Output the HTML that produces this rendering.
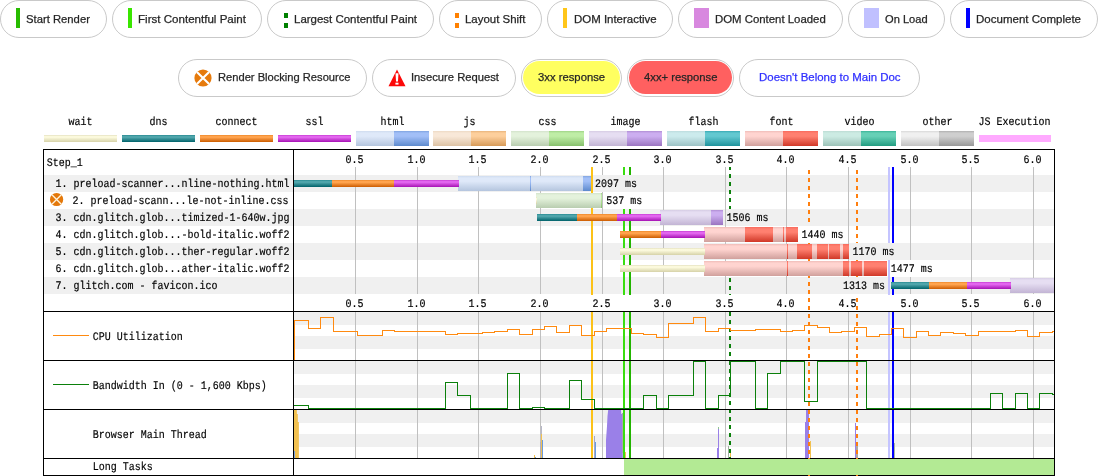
<!DOCTYPE html>
<html><head><meta charset="utf-8"><title>Waterfall</title>
<style>
html,body{margin:0;padding:0;background:#fff;}
body{width:1098px;height:476px;position:relative;overflow:hidden;font-family:"Liberation Sans",sans-serif;}
.pill{position:absolute;box-sizing:border-box;height:38px;border:1px solid #c9c9c9;border-radius:19px;background:#fff;}
.pill .t{position:absolute;top:0.4px;height:36px;line-height:36px;font-size:11.25px;color:#222;-webkit-text-stroke:0.25px currentColor;white-space:nowrap;transform-origin:0 50%;}
.pill .m{position:absolute;}
.pill .fill{position:absolute;left:1px;top:1px;right:1.5px;bottom:2px;border-radius:17px;}
svg{position:absolute;left:0;top:0;}
#chart{will-change:transform;}
svg text{font-family:"Liberation Mono",monospace;font-size:10px;fill:#000;stroke:#000;stroke-width:0.15px;text-rendering:geometricPrecision;}
#pills{position:absolute;left:0;top:0;width:1098px;height:110px;will-change:transform;}
</style></head><body><div id="pills">
<div class="pill" style="left:0px;top:0px;width:107px">
<div class="m" style="left:15px;top:7px;width:4px;height:20px;background:#28bc00"></div>
<span class="t" id="pt0" style="top:0.4px;left:25.00px;color:#262626;transform:scaleX(1.0019)">Start Render</span>
</div>
<div class="pill" style="left:112px;top:0px;width:150px">
<div class="m" style="left:15px;top:7px;width:4px;height:20px;background:#39e600"></div>
<span class="t" id="pt1" style="top:0.4px;left:25.20px;color:#262626;transform:scaleX(1.0281)">First Contentful Paint</span>
</div>
<div class="pill" style="left:267px;top:0px;width:167px">
<div class="m" style="left:16px;top:12px;width:4px;height:5px;background:#008000"></div><div class="m" style="left:16px;top:22px;width:4px;height:5px;background:#008000"></div>
<span class="t" id="pt2" style="top:0.4px;left:26.20px;color:#262626;transform:scaleX(1.0190)">Largest Contentful Paint</span>
</div>
<div class="pill" style="left:439px;top:0px;width:103px">
<div class="m" style="left:15px;top:12px;width:4px;height:5px;background:#ff8000"></div><div class="m" style="left:15px;top:22px;width:4px;height:5px;background:#ff8000"></div>
<span class="t" id="pt3" style="top:0.4px;left:25.00px;color:#262626;transform:scaleX(1.0165)">Layout Shift</span>
</div>
<div class="pill" style="left:547px;top:0px;width:126px">
<div class="m" style="left:15px;top:7px;width:4px;height:20px;background:#ffc61a"></div>
<span class="t" id="pt4" style="top:0.4px;left:25.50px;color:#262626;transform:scaleX(1.0175)">DOM Interactive</span>
</div>
<div class="pill" style="left:678px;top:0px;width:165px">
<div class="m" style="left:15px;top:7px;width:15px;height:20px;background:#d888df"></div>
<span class="t" id="pt5" style="top:0.4px;left:36.20px;color:#262626;transform:scaleX(1.0123)">DOM Content Loaded</span>
</div>
<div class="pill" style="left:848px;top:0px;width:97px">
<div class="m" style="left:15px;top:7px;width:15px;height:20px;background:#c0c0ff"></div>
<span class="t" id="pt6" style="top:0.4px;left:36.10px;color:#262626;transform:scaleX(0.9868)">On Load</span>
</div>
<div class="pill" style="left:950px;top:0px;width:148px">
<div class="m" style="left:15px;top:7px;width:4px;height:20px;background:#0000ff"></div>
<span class="t" id="pt7" style="top:0.4px;left:25.20px;color:#262626;transform:scaleX(1.0239)">Document Complete</span>
</div>
<div class="pill" style="left:178px;top:59px;width:189px">
<svg class="m" style="left:14.5px;top:8.5px" width="18" height="18" viewBox="0 0 18 18"><circle cx="9" cy="9" r="8.6" fill="#e67a0c"/><path d="M2.9 2.9 L15.1 15.1 M15.1 2.9 L2.9 15.1" stroke="#fff" stroke-width="2.1" fill="none"/></svg>
<span class="t" id="pt8" style="top:-0.6px;left:38.50px;color:#262626;transform:scaleX(0.9901)">Render Blocking Resource</span>
</div>
<div class="pill" style="left:372px;top:59px;width:144px">
<svg class="m" style="left:14.5px;top:8.5px" width="18" height="18" viewBox="0 0 18 18"><path d="M9 0.4 L17.5 17.3 L0.5 17.3 Z" fill="#fc0808"/><path d="M7.5 4.3 L10.5 4.3 L10 12.5 L8 12.5 Z" fill="#fff"/><rect x="7.4" y="13.7" width="3.1" height="1.9" fill="#fff"/></svg>
<span class="t" id="pt9" style="top:-0.6px;left:38.20px;color:#262626;transform:scaleX(0.9979)">Insecure Request</span>
</div>
<div class="pill" style="left:521px;top:59px;width:101px">
<div class="fill" style="background:#ffff60"></div>
<span class="t" id="pt10" style="top:-0.6px;left:16.10px;color:#262626;transform:scaleX(1.0027)">3xx response</span>
</div>
<div class="pill" style="left:627px;top:59px;width:107px">
<div class="fill" style="background:#ff6060"></div>
<span class="t" id="pt11" style="top:-0.6px;left:16.10px;color:#262626;transform:scaleX(1.0002)">4xx+ response</span>
</div>
<div class="pill" style="left:739px;top:59px;width:181px">
<span class="t" id="pt12" style="top:-0.6px;left:19.20px;color:#3030ff;transform:scaleX(1.0179)">Doesn't Belong to Main Doc</span>
</div>
</div>
<svg id="chart" width="1098" height="476" viewBox="0 0 1098 476" shape-rendering="crispEdges">
<defs>
<linearGradient id="g_wait" x1="0" y1="0" x2="0" y2="1"><stop offset="0" stop-color="#ddd9b8"/><stop offset="0.14" stop-color="#fbf9dc"/><stop offset="0.35" stop-color="#fbf9dc"/><stop offset="1" stop-color="#d6d2a8"/></linearGradient>
<linearGradient id="g_dns" x1="0" y1="0" x2="0" y2="1"><stop offset="0" stop-color="#1d838b"/><stop offset="0.14" stop-color="#4fa5ab"/><stop offset="0.35" stop-color="#4fa5ab"/><stop offset="1" stop-color="#00626a"/></linearGradient>
<linearGradient id="g_connect" x1="0" y1="0" x2="0" y2="1"><stop offset="0" stop-color="#e8801f"/><stop offset="0.14" stop-color="#ffa34d"/><stop offset="0.35" stop-color="#ffa34d"/><stop offset="1" stop-color="#cc5c00"/></linearGradient>
<linearGradient id="g_ssl" x1="0" y1="0" x2="0" y2="1"><stop offset="0" stop-color="#c030cc"/><stop offset="0.14" stop-color="#e266ee"/><stop offset="0.35" stop-color="#e266ee"/><stop offset="1" stop-color="#a612b4"/></linearGradient>
<linearGradient id="g_html_l" x1="0" y1="0" x2="0" y2="1"><stop offset="0" stop-color="#cfdcef"/><stop offset="0.14" stop-color="#dfe9f9"/><stop offset="0.35" stop-color="#dfe9f9"/><stop offset="1" stop-color="#b4c5de"/></linearGradient>
<linearGradient id="g_html_d" x1="0" y1="0" x2="0" y2="1"><stop offset="0" stop-color="#80a4e0"/><stop offset="0.14" stop-color="#a2bff7"/><stop offset="0.35" stop-color="#a2bff7"/><stop offset="1" stop-color="#5d8acd"/></linearGradient>
<linearGradient id="g_js_l" x1="0" y1="0" x2="0" y2="1"><stop offset="0" stop-color="#eddac4"/><stop offset="0.14" stop-color="#f8e8d8"/><stop offset="0.35" stop-color="#f8e8d8"/><stop offset="1" stop-color="#dcc2a4"/></linearGradient>
<linearGradient id="g_js_d" x1="0" y1="0" x2="0" y2="1"><stop offset="0" stop-color="#e8b47c"/><stop offset="0.14" stop-color="#fdcf9c"/><stop offset="0.35" stop-color="#fdcf9c"/><stop offset="1" stop-color="#d69a58"/></linearGradient>
<linearGradient id="g_css_l" x1="0" y1="0" x2="0" y2="1"><stop offset="0" stop-color="#d3e3cb"/><stop offset="0.14" stop-color="#e4f2dc"/><stop offset="0.35" stop-color="#e4f2dc"/><stop offset="1" stop-color="#b9cdb0"/></linearGradient>
<linearGradient id="g_css_d" x1="0" y1="0" x2="0" y2="1"><stop offset="0" stop-color="#a0d488"/><stop offset="0.14" stop-color="#bfeda6"/><stop offset="0.35" stop-color="#bfeda6"/><stop offset="1" stop-color="#86c06c"/></linearGradient>
<linearGradient id="g_image_l" x1="0" y1="0" x2="0" y2="1"><stop offset="0" stop-color="#d6cce4"/><stop offset="0.14" stop-color="#e6def2"/><stop offset="0.35" stop-color="#e6def2"/><stop offset="1" stop-color="#c2b4d4"/></linearGradient>
<linearGradient id="g_image_d" x1="0" y1="0" x2="0" y2="1"><stop offset="0" stop-color="#b08ed4"/><stop offset="0.14" stop-color="#ccaef0"/><stop offset="0.35" stop-color="#ccaef0"/><stop offset="1" stop-color="#9a74c0"/></linearGradient>
<linearGradient id="g_flash_l" x1="0" y1="0" x2="0" y2="1"><stop offset="0" stop-color="#bcdcde"/><stop offset="0.14" stop-color="#ccebed"/><stop offset="0.35" stop-color="#ccebed"/><stop offset="1" stop-color="#9cc2c5"/></linearGradient>
<linearGradient id="g_flash_d" x1="0" y1="0" x2="0" y2="1"><stop offset="0" stop-color="#38aab4"/><stop offset="0.14" stop-color="#62c8d0"/><stop offset="0.35" stop-color="#62c8d0"/><stop offset="1" stop-color="#1e929c"/></linearGradient>
<linearGradient id="g_font_l" x1="0" y1="0" x2="0" y2="1"><stop offset="0" stop-color="#f0bcb8"/><stop offset="0.14" stop-color="#ffd4d0"/><stop offset="0.35" stop-color="#ffd4d0"/><stop offset="1" stop-color="#d0a09c"/></linearGradient>
<linearGradient id="g_font_d" x1="0" y1="0" x2="0" y2="1"><stop offset="0" stop-color="#f86a5c"/><stop offset="0.14" stop-color="#ff8070"/><stop offset="0.35" stop-color="#ff8070"/><stop offset="1" stop-color="#d03828"/></linearGradient>
<linearGradient id="g_video_l" x1="0" y1="0" x2="0" y2="1"><stop offset="0" stop-color="#bcdcd4"/><stop offset="0.14" stop-color="#ccebe3"/><stop offset="0.35" stop-color="#ccebe3"/><stop offset="1" stop-color="#9cc2b8"/></linearGradient>
<linearGradient id="g_video_d" x1="0" y1="0" x2="0" y2="1"><stop offset="0" stop-color="#3cb498"/><stop offset="0.14" stop-color="#66d0b6"/><stop offset="0.35" stop-color="#66d0b6"/><stop offset="1" stop-color="#229c80"/></linearGradient>
<linearGradient id="g_other_l" x1="0" y1="0" x2="0" y2="1"><stop offset="0" stop-color="#d8d8d8"/><stop offset="0.14" stop-color="#f0f0f0"/><stop offset="0.35" stop-color="#f0f0f0"/><stop offset="1" stop-color="#c2c2c2"/></linearGradient>
<linearGradient id="g_other_d" x1="0" y1="0" x2="0" y2="1"><stop offset="0" stop-color="#b0b0b0"/><stop offset="0.14" stop-color="#cfcfcf"/><stop offset="0.35" stop-color="#cfcfcf"/><stop offset="1" stop-color="#989898"/></linearGradient>
</defs>
<text transform="translate(80.5,124.6) scale(1,1.16)" text-anchor="middle" >wait</text>
<rect x="44" y="135" width="73" height="7" fill="url(#g_wait)" />
<text transform="translate(158.5,124.6) scale(1,1.16)" text-anchor="middle" >dns</text>
<rect x="122" y="135" width="73" height="7" fill="url(#g_dns)" />
<text transform="translate(236.5,124.6) scale(1,1.16)" text-anchor="middle" >connect</text>
<rect x="200" y="135" width="73" height="7" fill="url(#g_connect)" />
<text transform="translate(314.5,124.6) scale(1,1.16)" text-anchor="middle" >ssl</text>
<rect x="278" y="135" width="73" height="7" fill="url(#g_ssl)" />
<text transform="translate(392.5,124.6) scale(1,1.16)" text-anchor="middle" >html</text>
<rect x="356" y="131" width="38" height="15" fill="url(#g_html_l)" />
<rect x="394" y="131" width="35" height="15" fill="url(#g_html_d)" />
<text transform="translate(469.5,124.6) scale(1,1.16)" text-anchor="middle" >js</text>
<rect x="433" y="131" width="38" height="15" fill="url(#g_js_l)" />
<rect x="471" y="131" width="35" height="15" fill="url(#g_js_d)" />
<text transform="translate(547.5,124.6) scale(1,1.16)" text-anchor="middle" >css</text>
<rect x="511" y="131" width="38" height="15" fill="url(#g_css_l)" />
<rect x="549" y="131" width="35" height="15" fill="url(#g_css_d)" />
<text transform="translate(625.5,124.6) scale(1,1.16)" text-anchor="middle" >image</text>
<rect x="589" y="131" width="38" height="15" fill="url(#g_image_l)" />
<rect x="627" y="131" width="35" height="15" fill="url(#g_image_d)" />
<text transform="translate(703.5,124.6) scale(1,1.16)" text-anchor="middle" >flash</text>
<rect x="667" y="131" width="38" height="15" fill="url(#g_flash_l)" />
<rect x="705" y="131" width="35" height="15" fill="url(#g_flash_d)" />
<text transform="translate(781.5,124.6) scale(1,1.16)" text-anchor="middle" >font</text>
<rect x="745" y="131" width="38" height="15" fill="url(#g_font_l)" />
<rect x="783" y="131" width="35" height="15" fill="url(#g_font_d)" />
<text transform="translate(859.5,124.6) scale(1,1.16)" text-anchor="middle" >video</text>
<rect x="823" y="131" width="38" height="15" fill="url(#g_video_l)" />
<rect x="861" y="131" width="35" height="15" fill="url(#g_video_d)" />
<text transform="translate(937.5,124.6) scale(1,1.16)" text-anchor="middle" >other</text>
<rect x="901" y="131" width="38" height="15" fill="url(#g_other_l)" />
<rect x="939" y="131" width="35" height="15" fill="url(#g_other_d)" />
<text transform="translate(1014.5,124.6) scale(1,1.16)" text-anchor="middle" >JS Execution</text>
<rect x="979" y="135" width="72" height="7" fill="#ffaaff" />
<rect x="44" y="175" width="1010" height="17" fill="#f0f0f0" />
<rect x="44" y="209" width="1010" height="17" fill="#f0f0f0" />
<rect x="44" y="243" width="1010" height="17" fill="#f0f0f0" />
<rect x="44" y="277" width="1010" height="17" fill="#f0f0f0" />
<rect x="294" y="312" width="760" height="12.5" fill="#f0f0f0" />
<rect x="294" y="336" width="760" height="12.5" fill="#f0f0f0" />
<rect x="294" y="361" width="760" height="12.5" fill="#f0f0f0" />
<rect x="294" y="385" width="760" height="12.5" fill="#f0f0f0" />
<rect x="294" y="410" width="760" height="12.5" fill="#f0f0f0" />
<rect x="294" y="434" width="760" height="12.5" fill="#f0f0f0" />
<rect x="355" y="167" width="1" height="127" fill="#c0c0c0" />
<rect x="355" y="312" width="1" height="146" fill="#c0c0c0" />
<rect x="417" y="167" width="1" height="127" fill="#c0c0c0" />
<rect x="417" y="312" width="1" height="146" fill="#c0c0c0" />
<rect x="478" y="167" width="1" height="127" fill="#c0c0c0" />
<rect x="478" y="312" width="1" height="146" fill="#c0c0c0" />
<rect x="540" y="167" width="1" height="127" fill="#c0c0c0" />
<rect x="540" y="312" width="1" height="146" fill="#c0c0c0" />
<rect x="602" y="167" width="1" height="127" fill="#c0c0c0" />
<rect x="602" y="312" width="1" height="146" fill="#c0c0c0" />
<rect x="663" y="167" width="1" height="127" fill="#c0c0c0" />
<rect x="663" y="312" width="1" height="146" fill="#c0c0c0" />
<rect x="725" y="167" width="1" height="127" fill="#c0c0c0" />
<rect x="725" y="312" width="1" height="146" fill="#c0c0c0" />
<rect x="786" y="167" width="1" height="127" fill="#c0c0c0" />
<rect x="786" y="312" width="1" height="146" fill="#c0c0c0" />
<rect x="848" y="167" width="1" height="127" fill="#c0c0c0" />
<rect x="848" y="312" width="1" height="146" fill="#c0c0c0" />
<rect x="910" y="167" width="1" height="127" fill="#c0c0c0" />
<rect x="910" y="312" width="1" height="146" fill="#c0c0c0" />
<rect x="971" y="167" width="1" height="127" fill="#c0c0c0" />
<rect x="971" y="312" width="1" height="146" fill="#c0c0c0" />
<rect x="1033" y="167" width="1" height="127" fill="#c0c0c0" />
<rect x="1033" y="312" width="1" height="146" fill="#c0c0c0" />
<rect x="591" y="167" width="2" height="291" fill="#fcc218" />
<rect x="623" y="167" width="2" height="291" fill="#3ade10" />
<rect x="629" y="167" width="2" height="291" fill="#22b400" />
<rect x="888" y="167" width="2" height="291" fill="#c4c4ff" />
<rect x="892" y="167" width="2" height="291" fill="#0000ff" />
<rect x="729" y="167" width="2" height="3" fill="#0b800b" />
<rect x="729" y="174" width="2" height="4" fill="#0b800b" />
<rect x="729" y="182" width="2" height="4" fill="#0b800b" />
<rect x="729" y="190" width="2" height="4" fill="#0b800b" />
<rect x="729" y="198" width="2" height="4" fill="#0b800b" />
<rect x="729" y="206" width="2" height="3" fill="#0b800b" />
<rect x="729" y="278" width="2" height="4" fill="#0b800b" />
<rect x="729" y="286" width="2" height="4" fill="#0b800b" />
<rect x="729" y="294" width="2" height="1" fill="#0b800b" />
<rect x="729" y="312" width="2" height="4" fill="#0b800b" />
<rect x="729" y="320" width="2" height="4" fill="#0b800b" />
<rect x="729" y="328" width="2" height="4" fill="#0b800b" />
<rect x="729" y="336" width="2" height="4" fill="#0b800b" />
<rect x="729" y="344" width="2" height="4" fill="#0b800b" />
<rect x="729" y="352" width="2" height="4" fill="#0b800b" />
<rect x="729" y="360.5" width="2" height="4" fill="#0b800b" />
<rect x="729" y="368.5" width="2" height="4" fill="#0b800b" />
<rect x="729" y="376.5" width="2" height="4" fill="#0b800b" />
<rect x="729" y="384.5" width="2" height="4" fill="#0b800b" />
<rect x="729" y="392.5" width="2" height="4" fill="#0b800b" />
<rect x="729" y="400.5" width="2" height="4" fill="#0b800b" />
<rect x="729" y="409" width="2" height="4" fill="#0b800b" />
<rect x="729" y="417" width="2" height="4" fill="#0b800b" />
<rect x="729" y="425" width="2" height="4" fill="#0b800b" />
<rect x="729" y="433" width="2" height="4" fill="#0b800b" />
<rect x="729" y="441" width="2" height="4" fill="#0b800b" />
<rect x="729" y="449" width="2" height="4" fill="#0b800b" />
<rect x="729" y="457" width="2" height="1" fill="#0b800b" />
<rect x="294" y="295" width="760" height="16" fill="#ffffff" />
<rect x="808" y="170" width="2" height="4" fill="#ff7f0e" />
<rect x="808" y="178" width="2" height="4" fill="#ff7f0e" />
<rect x="808" y="186" width="2" height="4" fill="#ff7f0e" />
<rect x="808" y="194" width="2" height="4" fill="#ff7f0e" />
<rect x="808" y="202" width="2" height="4" fill="#ff7f0e" />
<rect x="808" y="210" width="2" height="4" fill="#ff7f0e" />
<rect x="808" y="218" width="2" height="4" fill="#ff7f0e" />
<rect x="808" y="226" width="2" height="4" fill="#ff7f0e" />
<rect x="808" y="234" width="2" height="4" fill="#ff7f0e" />
<rect x="808" y="242" width="2" height="4" fill="#ff7f0e" />
<rect x="808" y="250" width="2" height="4" fill="#ff7f0e" />
<rect x="808" y="258" width="2" height="4" fill="#ff7f0e" />
<rect x="808" y="266" width="2" height="4" fill="#ff7f0e" />
<rect x="808" y="274" width="2" height="4" fill="#ff7f0e" />
<rect x="808" y="282" width="2" height="4" fill="#ff7f0e" />
<rect x="808" y="290" width="2" height="4" fill="#ff7f0e" />
<rect x="808" y="298" width="2" height="4" fill="#ff7f0e" />
<rect x="808" y="306" width="2" height="4" fill="#ff7f0e" />
<rect x="808" y="314" width="2" height="4" fill="#ff7f0e" />
<rect x="808" y="322" width="2" height="4" fill="#ff7f0e" />
<rect x="808" y="330" width="2" height="4" fill="#ff7f0e" />
<rect x="808" y="338" width="2" height="4" fill="#ff7f0e" />
<rect x="808" y="346" width="2" height="4" fill="#ff7f0e" />
<rect x="808" y="354" width="2" height="4" fill="#ff7f0e" />
<rect x="808" y="362" width="2" height="4" fill="#ff7f0e" />
<rect x="808" y="370" width="2" height="4" fill="#ff7f0e" />
<rect x="808" y="378" width="2" height="4" fill="#ff7f0e" />
<rect x="808" y="386" width="2" height="4" fill="#ff7f0e" />
<rect x="808" y="394" width="2" height="4" fill="#ff7f0e" />
<rect x="808" y="402" width="2" height="4" fill="#ff7f0e" />
<rect x="808" y="410" width="2" height="4" fill="#ff7f0e" />
<rect x="808" y="418" width="2" height="4" fill="#ff7f0e" />
<rect x="808" y="426" width="2" height="4" fill="#ff7f0e" />
<rect x="808" y="434" width="2" height="4" fill="#ff7f0e" />
<rect x="808" y="442" width="2" height="4" fill="#ff7f0e" />
<rect x="808" y="450" width="2" height="4" fill="#ff7f0e" />
<rect x="856" y="170" width="2" height="4" fill="#ff7f0e" />
<rect x="856" y="178" width="2" height="4" fill="#ff7f0e" />
<rect x="856" y="186" width="2" height="4" fill="#ff7f0e" />
<rect x="856" y="194" width="2" height="4" fill="#ff7f0e" />
<rect x="856" y="202" width="2" height="4" fill="#ff7f0e" />
<rect x="856" y="210" width="2" height="4" fill="#ff7f0e" />
<rect x="856" y="218" width="2" height="4" fill="#ff7f0e" />
<rect x="856" y="226" width="2" height="4" fill="#ff7f0e" />
<rect x="856" y="234" width="2" height="4" fill="#ff7f0e" />
<rect x="856" y="242" width="2" height="4" fill="#ff7f0e" />
<rect x="856" y="250" width="2" height="4" fill="#ff7f0e" />
<rect x="856" y="258" width="2" height="4" fill="#ff7f0e" />
<rect x="856" y="266" width="2" height="4" fill="#ff7f0e" />
<rect x="856" y="274" width="2" height="4" fill="#ff7f0e" />
<rect x="856" y="282" width="2" height="4" fill="#ff7f0e" />
<rect x="856" y="290" width="2" height="4" fill="#ff7f0e" />
<rect x="856" y="298" width="2" height="4" fill="#ff7f0e" />
<rect x="856" y="306" width="2" height="4" fill="#ff7f0e" />
<rect x="856" y="314" width="2" height="4" fill="#ff7f0e" />
<rect x="856" y="322" width="2" height="4" fill="#ff7f0e" />
<rect x="856" y="330" width="2" height="4" fill="#ff7f0e" />
<rect x="856" y="338" width="2" height="4" fill="#ff7f0e" />
<rect x="856" y="346" width="2" height="4" fill="#ff7f0e" />
<rect x="856" y="354" width="2" height="4" fill="#ff7f0e" />
<rect x="856" y="362" width="2" height="4" fill="#ff7f0e" />
<rect x="856" y="370" width="2" height="4" fill="#ff7f0e" />
<rect x="856" y="378" width="2" height="4" fill="#ff7f0e" />
<rect x="856" y="386" width="2" height="4" fill="#ff7f0e" />
<rect x="856" y="394" width="2" height="4" fill="#ff7f0e" />
<rect x="856" y="402" width="2" height="4" fill="#ff7f0e" />
<rect x="856" y="410" width="2" height="4" fill="#ff7f0e" />
<rect x="856" y="418" width="2" height="4" fill="#ff7f0e" />
<rect x="856" y="426" width="2" height="4" fill="#ff7f0e" />
<rect x="856" y="434" width="2" height="4" fill="#ff7f0e" />
<rect x="856" y="442" width="2" height="4" fill="#ff7f0e" />
<rect x="856" y="450" width="2" height="4" fill="#ff7f0e" />
<rect x="624" y="459" width="430" height="16" fill="#b3ea94" />
<polygon points="294,458 294,410 296.8,410 296.9,414 297.8,414 297.9,422 298.9,422 298.9,458" fill="#f2c150" shape-rendering="auto"/>
<rect x="294" y="451" width="1" height="7" fill="#7aa0dc" />
<rect x="534" y="455" width="1" height="3" fill="#f2c150" />
<rect x="534.5" y="456.5" width="1" height="1.5" fill="#6a9be0" />
<rect x="539.5" y="442" width="1" height="16" fill="#b0b0c8" />
<rect x="540.5" y="429" width="1" height="29" fill="#f2c150" />
<rect x="541" y="426" width="0.6" height="8" fill="#b8b8c8" />
<rect x="541.5" y="440" width="1" height="18" fill="#6a9be0" />
<rect x="594" y="436" width="1" height="22" fill="#a8a8c0" />
<rect x="594.5" y="442" width="1" height="16" fill="#6a9be0" />
<rect x="595.5" y="448" width="0.6" height="10" fill="#a0b8e0" />
<polygon points="606,458 606,440 607,426 607.5,416 608.2,410 621,410 621.3,414 622.8,414 622.8,458" fill="#9a80e8" shape-rendering="auto"/>
<rect x="622" y="413" width="1" height="40" fill="#a8a0b8" />
<rect x="624.5" y="452" width="1" height="6" fill="#f2c150" />
<rect x="717" y="448" width="1" height="10" fill="#9a80e8" />
<rect x="718" y="428" width="1" height="30" fill="#9a80e8" />
<rect x="718" y="427" width="1" height="2" fill="#90c890" />
<rect x="728" y="446" width="1" height="12" fill="#a0b0a0" />
<rect x="730.3" y="452" width="1" height="6" fill="#f2c150" />
<rect x="805" y="422" width="1.4" height="36" fill="#9a80e8" />
<rect x="806.4" y="410" width="2.2" height="48" fill="#9a80e8" />
<rect x="810" y="441" width="1" height="17" fill="#f2c150" />
<rect x="855" y="423" width="1.2" height="35" fill="#9a80e8" />
<rect x="856" y="444" width="1.5" height="14" fill="#b0a8a0" />
<rect x="894" y="443" width="1" height="15" fill="#a8b8a0" />
<rect x="808" y="410" width="2" height="4" fill="#ff7f0e" />
<rect x="808" y="418" width="2" height="4" fill="#ff7f0e" />
<rect x="808" y="426" width="2" height="4" fill="#ff7f0e" />
<rect x="808" y="434" width="2" height="4" fill="#ff7f0e" />
<rect x="808" y="442" width="2" height="4" fill="#ff7f0e" />
<rect x="808" y="450" width="2" height="4" fill="#ff7f0e" />
<rect x="856" y="410" width="2" height="4" fill="#ff7f0e" />
<rect x="856" y="418" width="2" height="4" fill="#ff7f0e" />
<rect x="856" y="426" width="2" height="4" fill="#ff7f0e" />
<rect x="856" y="434" width="2" height="4" fill="#ff7f0e" />
<rect x="856" y="442" width="2" height="4" fill="#ff7f0e" />
<rect x="856" y="450" width="2" height="4" fill="#ff7f0e" />
<rect x="729" y="409" width="2" height="4" fill="#0b800b" />
<rect x="729" y="417" width="2" height="4" fill="#0b800b" />
<rect x="729" y="425" width="2" height="4" fill="#0b800b" />
<rect x="729" y="433" width="2" height="4" fill="#0b800b" />
<rect x="729" y="441" width="2" height="4" fill="#0b800b" />
<rect x="729" y="449" width="2" height="4" fill="#0b800b" />
<rect x="729" y="457" width="2" height="1" fill="#0b800b" />
<polyline fill="none" stroke="#ff8a10" stroke-width="1" points="294,360 294,320.5 308.5,320.5 308.5,328.5 320.5,328.5 320.5,317.5 333.5,317.5 333.5,331.5 357.5,331.5 357.5,335.5 382.5,335.5 382.5,330.5 394.5,330.5 394.5,331.5 445.5,331.5 445.5,334.5 457.5,334.5 457.5,333.5 482.5,333.5 482.5,332.5 494.5,332.5 494.5,331.5 507.5,331.5 507.5,329.5 519.5,329.5 519.5,334.5 532.5,334.5 532.5,329.5 544.5,329.5 544.5,326.5 556.5,326.5 556.5,332.5 569.5,332.5 569.5,325.5 581.5,325.5 581.5,335.5 594.5,335.5 594.5,331.5 606.5,331.5 606.5,328.5 631.5,328.5 631.5,333.5 643.5,333.5 643.5,334.5 656.5,334.5 656.5,337.5 668.5,337.5 668.5,323.5 693.5,323.5 693.5,317.5 705.5,317.5 705.5,331.5 718.5,331.5 718.5,328.5 730.5,328.5 730.5,330.5 755.5,330.5 755.5,329.5 780.5,329.5 780.5,331.5 792.5,331.5 792.5,330.5 804.5,330.5 804.5,325.5 817.5,325.5 817.5,327.5 829.5,327.5 829.5,332.5 841.5,332.5 841.5,331.5 854.5,331.5 854.5,327.5 866.5,327.5 866.5,336.5 879.5,336.5 879.5,334.5 891.5,334.5 891.5,328.5 903.5,328.5 903.5,337.5 916.5,337.5 916.5,331.5 928.5,331.5 928.5,335.5 940.5,335.5 940.5,332.5 953.5,332.5 953.5,333.5 965.5,333.5 965.5,335.5 978.5,335.5 978.5,331.5 1015.5,331.5 1015.5,330.5 1027.5,330.5 1027.5,336.5 1039.5,336.5 1039.5,332.5 1052.5,332.5 1052.5,331.5 1054,331.5"/>
<polyline fill="none" stroke="#0b800b" stroke-width="1" points="294,405.5 308.5,405.5 308.5,408.5 445.5,408.5 445.5,382.5 457.5,382.5 457.5,395.5 470.5,395.5 470.5,408.5 507.5,408.5 507.5,373.5 519.5,373.5 519.5,408.5 532.5,408.5 532.5,407.5 544.5,407.5 544.5,408.5 569.5,408.5 569.5,380.5 581.5,380.5 581.5,399.5 594.5,399.5 594.5,408.5 643.5,408.5 643.5,395.5 656.5,395.5 656.5,408.5 668.5,408.5 668.5,395.5 693.5,395.5 693.5,361.5 705.5,361.5 705.5,408.5 718.5,408.5 718.5,395.5 730.5,395.5 730.5,361.5 755.5,361.5 755.5,408.5 767.5,408.5 767.5,373.5 780.5,373.5 780.5,361.5 804.5,361.5 804.5,401.5 817.5,401.5 817.5,361.5 866.5,361.5 866.5,408.5 990.5,408.5 990.5,393.5 1002.5,393.5 1002.5,408.5 1015.5,408.5 1015.5,393.5 1027.5,393.5 1027.5,408.5 1039.5,408.5 1039.5,393.5 1052.5,393.5 1052.5,394.5 1054,394.5"/>
<rect x="458" y="176" width="125" height="15" fill="url(#g_html_l)" />
<rect x="583" y="176" width="8" height="15" fill="url(#g_html_d)" />
<rect x="530" y="176" width="1" height="15" fill="url(#g_html_d)" />
<rect x="536" y="193" width="65" height="15" fill="url(#g_css_l)" />
<rect x="601" y="193" width="1" height="15" fill="url(#g_css_d)" />
<rect x="660" y="210" width="51" height="15" fill="url(#g_image_l)" />
<rect x="711" y="210" width="12" height="15" fill="url(#g_image_d)" />
<rect x="704" y="227" width="94" height="15" fill="url(#g_font_l)" />
<rect x="745" y="227" width="28" height="15" fill="url(#g_font_d)" />
<rect x="783" y="227" width="1.3" height="15" fill="url(#g_font_d)" />
<rect x="785.6" y="227" width="12.4" height="15" fill="url(#g_font_d)" />
<rect x="704" y="244" width="145" height="15" fill="url(#g_font_l)" />
<rect x="787" y="244" width="1" height="15" fill="url(#g_font_d)" />
<rect x="797" y="244" width="15" height="15" fill="url(#g_font_d)" />
<rect x="817" y="244" width="11" height="15" fill="url(#g_font_d)" />
<rect x="829" y="244" width="11" height="15" fill="url(#g_font_d)" />
<rect x="843" y="244" width="6" height="15" fill="url(#g_font_d)" />
<rect x="704" y="261" width="183" height="15" fill="url(#g_font_l)" />
<rect x="787" y="261" width="1" height="15" fill="url(#g_font_d)" />
<rect x="843" y="261" width="6" height="15" fill="url(#g_font_d)" />
<rect x="851" y="261" width="10.7" height="15" fill="url(#g_font_d)" />
<rect x="864" y="261" width="23" height="15" fill="url(#g_font_d)" />
<rect x="1010" y="278" width="44" height="15" fill="url(#g_image_l)" />
<rect x="294" y="180" width="38" height="7" fill="url(#g_dns)" />
<rect x="332" y="180" width="62" height="7" fill="url(#g_connect)" />
<rect x="394" y="180" width="65" height="7" fill="url(#g_ssl)" />
<rect x="536" y="197" width="1" height="7" fill="url(#g_wait)" />
<rect x="537" y="214" width="40" height="7" fill="url(#g_dns)" />
<rect x="577" y="214" width="40" height="7" fill="url(#g_connect)" />
<rect x="617" y="214" width="44" height="7" fill="url(#g_ssl)" />
<rect x="620" y="231" width="41" height="7" fill="url(#g_connect)" />
<rect x="661" y="231" width="44" height="7" fill="url(#g_ssl)" />
<rect x="620" y="248" width="85" height="7" fill="url(#g_wait)" />
<rect x="620" y="265" width="85" height="7" fill="url(#g_wait)" />
<rect x="891" y="282" width="38" height="7" fill="url(#g_dns)" />
<rect x="929" y="282" width="38" height="7" fill="url(#g_connect)" />
<rect x="967" y="282" width="44" height="7" fill="url(#g_ssl)" />
<rect x="594" y="175" width="45" height="17" fill="#f0f0f0" />
<text transform="translate(595,186.6) scale(1,1.16)" text-anchor="start" >2097 ms</text>
<rect x="605.3" y="192" width="39" height="17" fill="#ffffff" />
<text transform="translate(606.3,203.6) scale(1,1.16)" text-anchor="start" >537 ms</text>
<rect x="725.6" y="209" width="45" height="17" fill="#f0f0f0" />
<text transform="translate(726.6,220.6) scale(1,1.16)" text-anchor="start" >1506 ms</text>
<rect x="800.6" y="226" width="45" height="17" fill="#ffffff" />
<text transform="translate(801.6,237.6) scale(1,1.16)" text-anchor="start" >1440 ms</text>
<rect x="851.6" y="243" width="45" height="17" fill="#f0f0f0" />
<text transform="translate(852.6,254.6) scale(1,1.16)" text-anchor="start" >1170 ms</text>
<rect x="889.8" y="260" width="45" height="17" fill="#ffffff" />
<text transform="translate(890.8,271.6) scale(1,1.16)" text-anchor="start" >1477 ms</text>
<rect x="842" y="277" width="45" height="17" fill="#f0f0f0" />
<text transform="translate(843,288.6) scale(1,1.16)" text-anchor="start" >1313 ms</text>
<rect x="345" y="152" width="21" height="14" fill="#ffffff" />
<text transform="translate(354.5,162.6) scale(1,1.16)" text-anchor="middle" >0.5</text>
<rect x="345" y="296" width="18" height="14" fill="#ffffff" />
<text transform="translate(354.5,307) scale(1,1.16)" text-anchor="middle" >0.5</text>
<rect x="407" y="152" width="21" height="14" fill="#ffffff" />
<text transform="translate(416.5,162.6) scale(1,1.16)" text-anchor="middle" >1.0</text>
<rect x="407" y="296" width="18" height="14" fill="#ffffff" />
<text transform="translate(416.5,307) scale(1,1.16)" text-anchor="middle" >1.0</text>
<rect x="468" y="152" width="21" height="14" fill="#ffffff" />
<text transform="translate(477.5,162.6) scale(1,1.16)" text-anchor="middle" >1.5</text>
<rect x="468" y="296" width="18" height="14" fill="#ffffff" />
<text transform="translate(477.5,307) scale(1,1.16)" text-anchor="middle" >1.5</text>
<rect x="530" y="152" width="21" height="14" fill="#ffffff" />
<text transform="translate(539.5,162.6) scale(1,1.16)" text-anchor="middle" >2.0</text>
<rect x="530" y="296" width="18" height="14" fill="#ffffff" />
<text transform="translate(539.5,307) scale(1,1.16)" text-anchor="middle" >2.0</text>
<rect x="592" y="152" width="21" height="14" fill="#ffffff" />
<text transform="translate(601.5,162.6) scale(1,1.16)" text-anchor="middle" >2.5</text>
<rect x="592" y="296" width="18" height="14" fill="#ffffff" />
<text transform="translate(601.5,307) scale(1,1.16)" text-anchor="middle" >2.5</text>
<rect x="653" y="152" width="21" height="14" fill="#ffffff" />
<text transform="translate(662.5,162.6) scale(1,1.16)" text-anchor="middle" >3.0</text>
<rect x="653" y="296" width="18" height="14" fill="#ffffff" />
<text transform="translate(662.5,307) scale(1,1.16)" text-anchor="middle" >3.0</text>
<rect x="715" y="152" width="21" height="14" fill="#ffffff" />
<text transform="translate(724.5,162.6) scale(1,1.16)" text-anchor="middle" >3.5</text>
<rect x="715" y="296" width="18" height="14" fill="#ffffff" />
<text transform="translate(724.5,307) scale(1,1.16)" text-anchor="middle" >3.5</text>
<rect x="776" y="152" width="21" height="14" fill="#ffffff" />
<text transform="translate(785.5,162.6) scale(1,1.16)" text-anchor="middle" >4.0</text>
<rect x="776" y="296" width="18" height="14" fill="#ffffff" />
<text transform="translate(785.5,307) scale(1,1.16)" text-anchor="middle" >4.0</text>
<rect x="838" y="152" width="21" height="14" fill="#ffffff" />
<text transform="translate(847.5,162.6) scale(1,1.16)" text-anchor="middle" >4.5</text>
<rect x="838" y="296" width="18" height="14" fill="#ffffff" />
<text transform="translate(847.5,307) scale(1,1.16)" text-anchor="middle" >4.5</text>
<rect x="900" y="152" width="21" height="14" fill="#ffffff" />
<text transform="translate(909.5,162.6) scale(1,1.16)" text-anchor="middle" >5.0</text>
<rect x="900" y="296" width="18" height="14" fill="#ffffff" />
<text transform="translate(909.5,307) scale(1,1.16)" text-anchor="middle" >5.0</text>
<rect x="961" y="152" width="21" height="14" fill="#ffffff" />
<text transform="translate(970.5,162.6) scale(1,1.16)" text-anchor="middle" >5.5</text>
<rect x="961" y="296" width="18" height="14" fill="#ffffff" />
<text transform="translate(970.5,307) scale(1,1.16)" text-anchor="middle" >5.5</text>
<rect x="1023" y="152" width="21" height="14" fill="#ffffff" />
<text transform="translate(1032.5,162.6) scale(1,1.16)" text-anchor="middle" >6.0</text>
<rect x="1023" y="296" width="18" height="14" fill="#ffffff" />
<text transform="translate(1032.5,307) scale(1,1.16)" text-anchor="middle" >6.0</text>
<text transform="translate(46.7,165.7) scale(1,1.16)" text-anchor="start" >Step_1</text>
<text transform="translate(55.5,186.6) scale(1,1.16)" text-anchor="start" >1. preload-scanner...nline-nothing.html</text>
<text transform="translate(72.5,203.6) scale(1,1.16)" text-anchor="start" >2. preload-scann...le-not-inline.css</text>
<text transform="translate(55.5,220.6) scale(1,1.16)" text-anchor="start" >3. cdn.glitch.glob...timized-1-640w.jpg</text>
<text transform="translate(55.5,237.6) scale(1,1.16)" text-anchor="start" >4. cdn.glitch.glob...-bold-italic.woff2</text>
<text transform="translate(55.5,254.6) scale(1,1.16)" text-anchor="start" >5. cdn.glitch.glob...ther-regular.woff2</text>
<text transform="translate(55.5,271.6) scale(1,1.16)" text-anchor="start" >6. cdn.glitch.glob...ather-italic.woff2</text>
<text transform="translate(55.5,288.6) scale(1,1.16)" text-anchor="start" >7. glitch.com - favicon.ico</text>
<g shape-rendering="auto"><circle cx="56.6" cy="199.5" r="6.6" fill="#e4780a"/><path d="M51.9 194.8 L61.3 204.2 M61.3 194.8 L51.9 204.2" stroke="#fff4dc" stroke-width="1.3" fill="none"/></g>
<rect x="53" y="335" width="36" height="1" fill="#ff8a10" />
<text transform="translate(92.8,339.8) scale(1,1.16)" text-anchor="start" >CPU Utilization</text>
<rect x="53" y="384" width="36" height="1" fill="#0b800b" />
<text transform="translate(92.8,388.8) scale(1,1.16)" text-anchor="start" >Bandwidth In (0 - 1,600 Kbps)</text>
<text transform="translate(92.8,437.8) scale(1,1.16)" text-anchor="start" >Browser Main Thread</text>
<text transform="translate(92.8,470.4) scale(1,1.16)" text-anchor="start" >Long Tasks</text>
<rect x="43" y="149" width="1012" height="1" fill="#000" />
<rect x="43" y="475" width="1012" height="1" fill="#000" />
<rect x="43" y="149" width="1" height="327" fill="#000" />
<rect x="1054" y="149" width="1" height="327" fill="#000" />
<rect x="293" y="149" width="1" height="327" fill="#000" />
<rect x="43" y="311" width="1012" height="1" fill="#000" />
<rect x="43" y="360" width="1012" height="1" fill="#000" />
<rect x="43" y="409" width="1012" height="1" fill="#000" />
<rect x="43" y="458" width="1012" height="1" fill="#000" />
<rect x="808" y="458" width="2" height="1" fill="#ff7f0e" />
<rect x="808" y="475" width="2" height="1" fill="#ff7f0e" />
<rect x="856" y="458" width="2" height="1" fill="#ff7f0e" />
<rect x="856" y="475" width="2" height="1" fill="#ff7f0e" />
</svg>
</body></html>
